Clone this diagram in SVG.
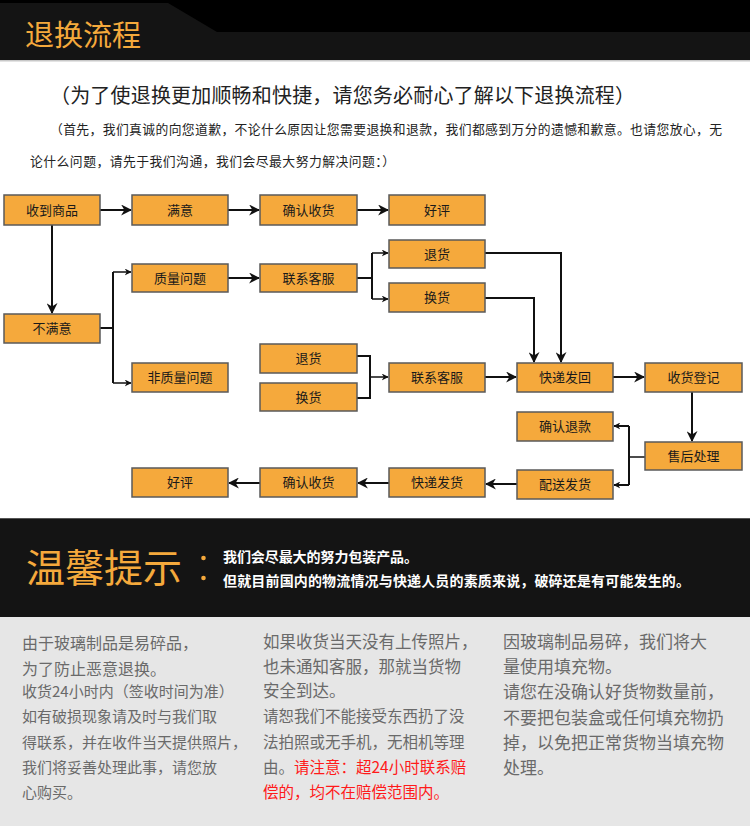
<svg xmlns="http://www.w3.org/2000/svg" width="750" height="826" viewBox="0 0 750 826">
<defs>
<style>
.t{font-family:"Noto Sans CJK SC","Noto Sans",sans-serif}
.box rect{fill:#F5A93C;stroke:#5a5a5a;stroke-width:1.5}
.box text{font-family:"Noto Sans CJK SC","Noto Sans",sans-serif;font-size:13px;fill:#1a1a1a;text-anchor:middle}
.c{fill:none;stroke:#111;stroke-width:2}
.cs{fill:none;stroke:#111;stroke-width:1.5}
.g{font-family:"Noto Sans CJK SC","Noto Sans",sans-serif;fill:#6a6a6a}
</style>
<marker id="ah" viewBox="0 0 10 10" refX="9" refY="5" markerWidth="11" markerHeight="11" markerUnits="userSpaceOnUse" orient="auto"><path d="M0,0 L10,5 L0,10 L3,5 z" fill="#111"/></marker>
<marker id="as" viewBox="0 0 10 10" refX="9" refY="5" markerWidth="7" markerHeight="7" markerUnits="userSpaceOnUse" orient="auto"><path d="M0,0 L10,5 L0,10 L3,5 z" fill="#111"/></marker>
</defs>
<rect width="750" height="826" fill="#ffffff"/>
<!-- header -->
<rect x="0" y="0" width="750" height="61" fill="#000"/>
<path d="M0,3 H168 L217,32 H750 V60 H0 Z" fill="#141414"/>
<rect x="0" y="60" width="750" height="1.5" fill="#c8c8c8"/>
<text class="t" x="25" y="46" font-size="29" fill="#F5A93C">退换流程</text>
<!-- intro -->
<text class="t" x="50" y="103" font-size="20" fill="#222" textLength="585" lengthAdjust="spacing">（为了使退换更加顺畅和快捷，请您务必耐心了解以下退换流程）</text>
<text class="t" x="50" y="134" font-size="12.8" fill="#222" textLength="672" lengthAdjust="spacing">（首先，我们真诚的向您道歉，不论什么原因让您需要退换和退款，我们都感到万分的遗憾和歉意。也请您放心，无</text>
<text class="t" x="30" y="166" font-size="12.8" fill="#222" textLength="365" lengthAdjust="spacing">论什么问题，请先于我们沟通，我们会尽最大努力解决问题：）</text>
<!-- connectors -->
<g id="connectors">
<path class="c" d="M100,210 H131" marker-end="url(#ah)"/>
<path class="c" d="M228,210 H259" marker-end="url(#ah)"/>
<path class="c" d="M357,210 H388" marker-end="url(#ah)"/>
<path class="c" d="M52,225 V313" marker-end="url(#ah)"/>
<path class="c" d="M100,328 H113"/>
<path class="c" d="M113,272 V383"/>
<path class="cs" d="M113,272 H131" marker-end="url(#as)"/>
<path class="cs" d="M113,383 H131" marker-end="url(#as)"/>
<path class="c" d="M228,278 H259" marker-end="url(#ah)"/>
<path class="c" d="M357,278 H372"/>
<path class="c" d="M372,253 V299"/>
<path class="cs" d="M372,253 H388" marker-end="url(#as)"/>
<path class="cs" d="M372,299 H388" marker-end="url(#as)"/>
<path class="c" d="M485,253 H561 V362" marker-end="url(#ah)"/>
<path class="c" d="M485,298 H534 V362" marker-end="url(#ah)"/>
<path class="c" d="M357,356 H370 V398 H357"/>
<path class="cs" d="M370,377 H388" marker-end="url(#as)"/>
<path class="c" d="M485,377 H516" marker-end="url(#ah)"/>
<path class="c" d="M613,377 H644" marker-end="url(#ah)"/>
<path class="c" d="M692,392 V441" marker-end="url(#ah)"/>
<path class="cs" d="M645,457 H629"/>
<path class="c" d="M629,426 V485"/>
<path class="c" d="M629,426 H614" marker-end="url(#as)"/>
<path class="c" d="M629,485 H614" marker-end="url(#as)"/>
<path class="c" d="M517,484 H486" marker-end="url(#ah)"/>
<path class="c" d="M389,483 H358" marker-end="url(#ah)"/>
<path class="c" d="M260,483 H229" marker-end="url(#ah)"/>
</g>
<!-- nodes -->
<g id="n-receive" class="box"><rect x="4" y="195" width="96" height="30"/><text x="52" y="215">收到商品</text></g>
<g id="n-satisfied" class="box"><rect x="132" y="195" width="96" height="30"/><text x="180" y="215">满意</text></g>
<g id="n-confirm1" class="box"><rect x="260" y="195" width="97" height="30"/><text x="308.5" y="215">确认收货</text></g>
<g id="n-good1" class="box"><rect x="389" y="195" width="96" height="30"/><text x="437" y="215">好评</text></g>
<g id="n-quality" class="box"><rect x="132" y="264" width="96" height="28"/><text x="180" y="283">质量问题</text></g>
<g id="n-cs1" class="box"><rect x="260" y="264" width="97" height="28"/><text x="308.5" y="283">联系客服</text></g>
<g id="n-return1" class="box"><rect x="389" y="240" width="96" height="28"/><text x="437" y="259">退货</text></g>
<g id="n-exchange1" class="box"><rect x="389" y="283" width="96" height="29"/><text x="437" y="302">换货</text></g>
<g id="n-unsatisfied" class="box"><rect x="4" y="314" width="96" height="29"/><text x="52" y="333">不满意</text></g>
<g id="n-nonquality" class="box"><rect x="132" y="363" width="96" height="29"/><text x="180" y="382">非质量问题</text></g>
<g id="n-return2" class="box"><rect x="260" y="344" width="97" height="29"/><text x="308.5" y="363">退货</text></g>
<g id="n-exchange2" class="box"><rect x="260" y="383" width="97" height="28"/><text x="308.5" y="402">换货</text></g>
<g id="n-cs2" class="box"><rect x="389" y="363" width="96" height="29"/><text x="437" y="382">联系客服</text></g>
<g id="n-shipback" class="box"><rect x="517" y="363" width="96" height="29"/><text x="565" y="382">快递发回</text></g>
<g id="n-register" class="box"><rect x="645" y="363" width="97" height="29"/><text x="693.5" y="382">收货登记</text></g>
<g id="n-refund" class="box"><rect x="517" y="412" width="96" height="29"/><text x="565" y="431">确认退款</text></g>
<g id="n-aftersale" class="box"><rect x="645" y="442" width="97" height="28"/><text x="693.5" y="461">售后处理</text></g>
<g id="n-deliver" class="box"><rect x="517" y="470" width="96" height="29"/><text x="565" y="489">配送发货</text></g>
<g id="n-express" class="box"><rect x="389" y="468" width="96" height="29"/><text x="437" y="487">快递发货</text></g>
<g id="n-confirm2" class="box"><rect x="260" y="468" width="97" height="29"/><text x="308.5" y="487">确认收货</text></g>
<g id="n-good2" class="box"><rect x="132" y="468" width="96" height="29"/><text x="180" y="487">好评</text></g>
<!-- tip band -->
<rect x="0" y="518" width="750" height="1.5" fill="#555"/>
<rect x="0" y="519" width="750" height="98" fill="#141414"/>
<rect x="0" y="617" width="750" height="209" fill="#e6e6e6"/>
<text class="t" x="26" y="582" font-size="39" fill="#F5A93C">温馨提示</text>
<circle cx="203.5" cy="558" r="2.3" fill="#F5A93C"/>
<circle cx="203.5" cy="578" r="2.3" fill="#F5A93C"/>
<text class="t" x="223" y="562" font-size="14" font-weight="bold" fill="#fff" textLength="195" lengthAdjust="spacing">我们会尽最大的努力包装产品。</text>
<text class="t" x="223" y="586" font-size="14" font-weight="bold" fill="#fff" textLength="467" lengthAdjust="spacing">但就目前国内的物流情况与快递人员的素质来说，破碎还是有可能发生的。</text>
<!-- bottom columns -->
<text class="g" font-size="16"><tspan x="22" y="649">由于玻璃制品是易碎品，</tspan><tspan x="22" y="675">为了防止恶意退换。</tspan></text>
<text class="g" font-size="15"><tspan x="22" y="697">收货24小时内（签收时间为准）</tspan><tspan x="22" y="722">如有破损现象请及时与我们取</tspan><tspan x="22" y="748">得联系，并在收件当天提供照片，</tspan><tspan x="22" y="773">我们将妥善处理此事，请您放</tspan><tspan x="22" y="798">心购买。</tspan></text>
<text class="g" font-size="16.5"><tspan x="263" y="648">如果收货当天没有上传照片，</tspan><tspan x="263" y="673">也未通知客服，那就当货物</tspan><tspan x="263" y="697">安全到达。</tspan></text>
<text class="g" font-size="15.5"><tspan x="263" y="722">请恕我们不能接受东西扔了没</tspan><tspan x="263" y="748">法拍照或无手机，无相机等理</tspan><tspan x="263" y="773">由。<tspan fill="#ff1a1a">请注意：超24小时联系赔</tspan></tspan><tspan x="263" y="798" fill="#ff1a1a">偿的，均不在赔偿范围内。</tspan></text>
<text class="g" font-size="17"><tspan x="503" y="648">因玻璃制品易碎，我们将大</tspan><tspan x="503" y="673">量使用填充物。</tspan><tspan x="503" y="698">请您在没确认好货物数量前，</tspan><tspan x="503" y="724">不要把包装盒或任何填充物扔</tspan><tspan x="503" y="749">掉，以免把正常货物当填充物</tspan><tspan x="503" y="774">处理。</tspan></text>
</svg>
